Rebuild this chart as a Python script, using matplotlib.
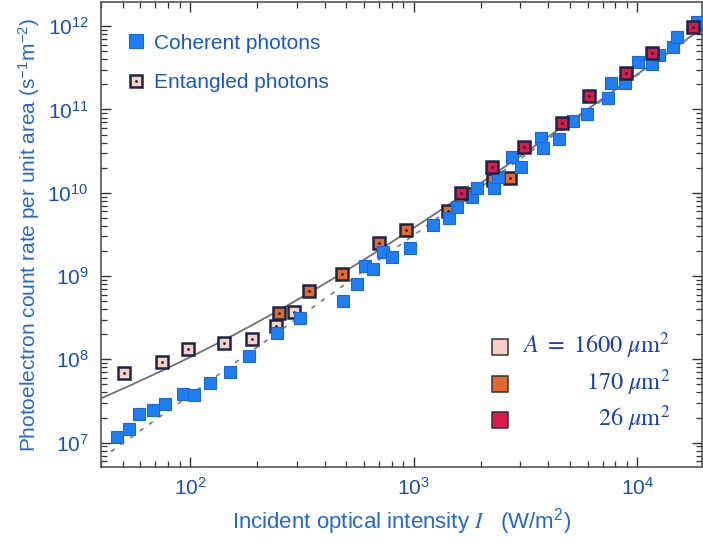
import numpy as np
import matplotlib.pyplot as plt
from matplotlib.lines import Line2D
from matplotlib.legend_handler import HandlerTuple

plt.rcParams['font.family'] = 'Liberation Sans'
plt.rcParams['mathtext.fontset'] = 'stix'

# coherent photons: intensity (W/m^2) and count rate (s^-1 m^-2)
coh_I = [47.1, 53.4, 59.1, 68.3, 77.3, 93.0, 104, 123, 151, 184,
         245, 310, 484, 559, 607, 659, 730, 801, 965, 1216,
         1442, 1565, 1827, 1924, 2292, 2388, 2759, 3027, 3720, 3797,
         4477, 5171, 5975, 7418, 7650, 8837, 10100, 11670, 12540, 14490,
         15100, 18550]
coh_R = [1.17e7, 1.46e7, 2.21e7, 2.47e7, 2.91e7, 3.84e7, 3.73e7, 5.2e7, 7.05e7, 1.10e8,
         2.07e8, 3.13e8, 5.01e8, 8.02e8, 1.32e9, 1.21e9, 1.94e9, 1.69e9, 2.17e9, 4.09e9,
         4.97e9, 6.73e9, 8.87e9, 1.14e10, 1.14e10, 1.54e10, 2.68e10, 2.03e10, 4.53e10, 3.44e10,
         4.41e10, 7.24e10, 8.79e10, 1.37e11, 2.07e11, 2.07e11, 3.70e11, 3.50e11, 4.49e11, 5.60e11,
         7.38e11, 1.12e12]

# entangled photons, three beam areas
ent1600_I = [50.5, 74.9, 98.3, 142, 190, 242.5, 291]
ent1600_R = [6.79e7, 9.29e7, 1.32e8, 1.56e8, 1.74e8, 2.51e8, 3.73e8]
ent170_I = [251, 342, 479, 703, 926, 1431, 1808, 2275, 2703]
ent170_R = [3.65e8, 6.67e8, 1.06e9, 2.47e9, 3.56e9, 6.03e9, 9.64e9, 1.42e10, 1.52e10]
ent26_I = [1632, 2239, 3121, 4604, 6067, 8912, 11630, 17860]
ent26_R = [9.82e9, 2.05e10, 3.56e10, 6.86e10, 1.47e11, 2.75e11, 4.79e11, 9.82e11]

area_labels = [r'$A\ =\ 1600\ \mu\mathrm{m}^2$', r'$170\ \mu\mathrm{m}^2$', r'$26\ \mu\mathrm{m}^2$']

# fit: R = A_LIN*I + 10**LOGB * I**EXP
A_LIN = 6.9e5
LOGB = 3.73
EXP = 1.92

BLUE = '#1f7ff0'
PINK = '#f3d0c8'
ORANGE = '#e06a30'
RED = '#dc1a50'
EDGE = '#1c2544'
TXT = '#1a4cc8'
LBL = '#2266dd'

fig = plt.figure(figsize=(7.03, 5.43), dpi=100)
ax = fig.add_axes([101/703, 76/543, 601/703, 465/543])

I_fit = np.logspace(np.log10(40), np.log10(19500), 300)
quad = 10**LOGB * I_fit**EXP
ax.plot(I_fit, A_LIN*I_fit + quad, '-', color='#707070', lw=1.3, zorder=1)
ax.plot(I_fit[I_fit > 44], quad[I_fit > 44], color='#808080', lw=1.3, dashes=(2.5, 4), zorder=1)

def entangled(I, R, color, z):
    ax.plot(I, R, 's', ms=8, mfc=color, mec=EDGE, mew=1.8, ls='none', zorder=z)
    ax.plot(I, R, '.', ms=2, color='#222222', ls='none', zorder=z)

entangled(ent1600_I, ent1600_R, PINK, 2)
entangled(ent170_I, ent170_R, ORANGE, 2)
ax.plot(coh_I, coh_R, 's', ms=8.5, mfc=BLUE, mec='#1d66d8', mew=0.8, ls='none', zorder=3)
entangled(ent26_I, ent26_R, RED, 4)

ax.set_xscale('log')
ax.set_yscale('log')
ax.set_xlim(40, 19500)
ax.set_ylim(5.1e6, 1.95e12)

ax.tick_params(which='both', direction='in', top=True, right=True, color='#333333',
               labelcolor=TXT, labelsize=15)
ax.tick_params(which='major', length=7, width=1)
ax.tick_params(which='minor', length=4, width=0.9)
ax.tick_params(axis='y', pad=9)
ax.tick_params(axis='x', pad=7)
for s in ax.spines.values():
    s.set_color('#555555')
    s.set_linewidth(1.2)

ax.set_xlabel(r'Incident optical intensity $I$   (W/m$^{\mathdefault{2}}$)',
              color=LBL, fontsize=16, labelpad=6)
ax.set_ylabel(r'Photoelectron count rate per unit area (s$^{\mathdefault{-1}}$m$^{\mathdefault{-2}}$)',
              color=LBL, fontsize=15, labelpad=4)

# legend: photon type
h_coh = Line2D([], [], marker='s', ms=10, mfc=BLUE, mec='#1d66d8', mew=0.8, ls='none')
h_ent = Line2D([], [], marker='s', ms=9, mfc=PINK, mec=EDGE, mew=1.8, ls='none')
h_dot = Line2D([], [], marker='.', ms=2, color='#222222', ls='none')
leg1 = ax.legend([h_coh, (h_ent, h_dot)], ['Coherent photons', 'Entangled photons'],
                 handler_map={tuple: HandlerTuple(ndivide=1)},
                 loc='upper left', bbox_to_anchor=(0.010, 0.972), frameon=False,
                 fontsize=15, handlelength=1.0, handletextpad=0.35, labelspacing=0.99,
                 labelcolor='#1a55d0')

# legend: beam area, labels right-aligned
key_x, txt_x = 0.664, 0.947
for k, (c, lbl) in enumerate(zip((PINK, ORANGE, RED), area_labels)):
    y = 0.258 - k * 0.0785
    ax.plot([key_x], [y], 's', ms=11, mfc=c, mec='#333333', mew=1.1,
            transform=ax.transAxes, clip_on=False, zorder=5)
    ax.text(txt_x, y - 0.0142, lbl, transform=ax.transAxes, ha='right', va='baseline',
            fontsize=17.5, color='#1a3fb8')

fig.savefig('out.png', dpi=100)
